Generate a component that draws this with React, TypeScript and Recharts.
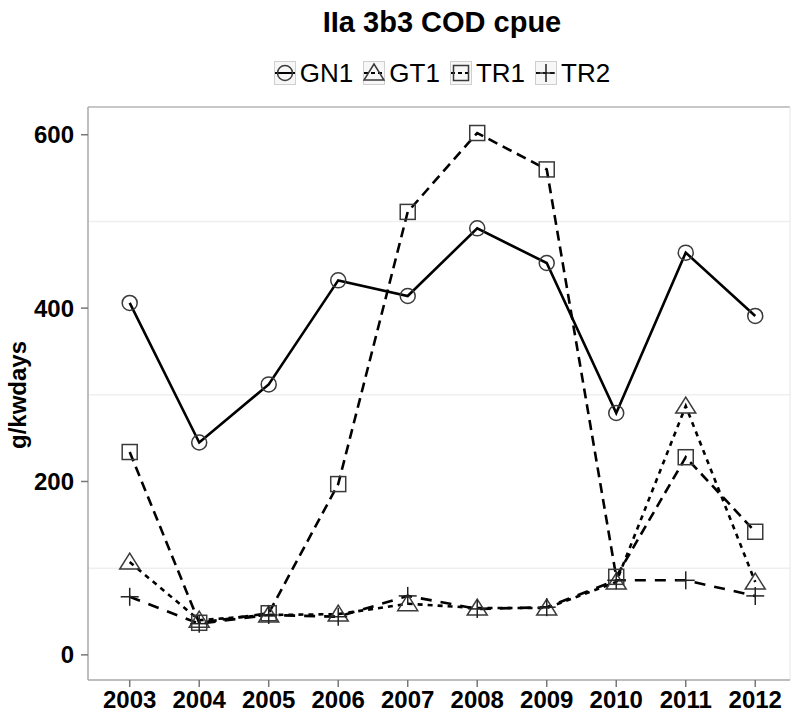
import { LineChart, Line, XAxis, YAxis, ReferenceLine } from 'recharts';

const years = [2003, 2004, 2005, 2006, 2007, 2008, 2009, 2010, 2011, 2012];
const gn1 = [406, 245, 312, 432, 414, 492, 452, 279, 464, 391];
const gt1 = [107, 40, 46, 47, 59, 54, 54, 84, 287, 84];
const tr1 = [234, 37, 48, 197, 511, 602, 560, 90, 228, 142];
const tr2 = [67, 36, 46, 44, 68, 53, 55, 86, 86, 68];
const yTicks = [0, 200, 400, 600];
const minorTicks = [100, 300, 500];

const FONT = '"Liberation Sans", Arial, sans-serif';

type Shape = 'circle' | 'triangle' | 'square' | 'plus';

const series: { key: string; dash?: string; shape: Shape }[] = [
  { key: 'GN1', shape: 'circle' },
  { key: 'GT1', dash: '5 5', shape: 'triangle' },
  { key: 'TR1', dash: '10 6', shape: 'square' },
  { key: 'TR2', dash: '11 9', shape: 'plus' },
];

const data = years.map((year, i) => ({
  year,
  GN1: gn1[i],
  GT1: gt1[i],
  TR1: tr1[i],
  TR2: tr2[i],
}));

const MARK = '#3a3a3a';

function Marker({ shape, cx, cy }: { shape: Shape; cx: number; cy: number }) {
  if (shape === 'circle') {
    return <circle cx={cx} cy={cy} r={7.5} fill="none" stroke={MARK} strokeWidth={1.5} />;
  }
  if (shape === 'square') {
    return <rect x={cx - 7.5} y={cy - 7.5} width={15} height={15} fill="none" stroke={MARK} strokeWidth={1.5} />;
  }
  if (shape === 'triangle') {
    return (
      <polygon
        points={`${cx},${cy - 9} ${cx - 10},${cy + 7} ${cx + 10},${cy + 7}`}
        fill="none"
        stroke={MARK}
        strokeWidth={1.5}
      />
    );
  }
  return (
    <g stroke="#222" strokeWidth={1.5}>
      <line x1={cx - 9} y1={cy} x2={cx + 9} y2={cy} />
      <line x1={cx} y1={cy - 9} x2={cx} y2={cy + 9} />
    </g>
  );
}

function LegendKey({ shape, dash }: { shape: Shape; dash?: string }) {
  return (
    <svg width={22} height={24} style={{ display: 'block' }}>
      <rect x={0.5} y={0.5} width={21} height={23} fill="#f7f7f7" stroke="#cfcfcf" />
      <line x1={1} y1={12} x2={21} y2={12} stroke="#000" strokeWidth={2} strokeDasharray={dash ? '4 3' : undefined} />
      <Marker shape={shape} cx={11} cy={12} />
    </svg>
  );
}

const tickStyle = { fill: '#000', fontSize: 24, fontWeight: 700, fontFamily: FONT };

export default function App() {
  return (
    <div
      style={{
        position: 'absolute',
        left: 0,
        top: 0,
        width: 793,
        height: 719,
        overflow: 'hidden',
        background: '#fff',
        fontFamily: FONT,
      }}
    >
      <div
        style={{
          position: 'absolute',
          left: 0,
          top: 8,
          width: 884,
          textAlign: 'center',
          fontSize: 29,
          lineHeight: '29px',
          fontWeight: 700,
        }}
      >
        IIa 3b3 COD cpue
      </div>
      <div
        style={{
          position: 'absolute',
          left: 0,
          top: 61,
          width: 884,
          height: 24,
          display: 'flex',
          justifyContent: 'center',
          alignItems: 'center',
          fontSize: 26,
          lineHeight: '24px',
        }}
      >
        {series.map((s, i) => (
          <div
            key={s.key}
            style={{ display: 'flex', alignItems: 'center', marginLeft: i === 0 ? 0 : 10 }}
          >
            <LegendKey shape={s.shape} dash={s.dash} />
            <span style={{ marginLeft: 4 }}>{s.key}</span>
          </div>
        ))}
      </div>
      <div
        style={{
          position: 'absolute',
          left: 18,
          top: 395,
          transform: 'translate(-50%, -50%) rotate(-90deg)',
          fontSize: 24,
          fontWeight: 700,
          whiteSpace: 'nowrap',
        }}
      >
        g/kwdays
      </div>
      <div style={{ position: 'absolute', left: 0, top: 0 }}>
        <LineChart width={800} height={719} data={data} margin={{ top: 107, right: 10, bottom: 0, left: 8 }}>
          {minorTicks.map((v) => (
            <ReferenceLine key={v} y={v} stroke="#efefef" strokeWidth={1.5} />
          ))}
          <ReferenceLine y={632} stroke="#b5b5b5" strokeWidth={1.5} />
          <ReferenceLine x={2012.5} stroke="#e6e6e6" strokeWidth={1} />
          <XAxis
            dataKey="year"
            type="number"
            domain={[2002.4, 2012.5]}
            ticks={years}
            allowDataOverflow
            height={39}
            interval={0}
            tick={tickStyle}
            tickSize={7}
            tickMargin={4}
            axisLine={{ stroke: '#a8a8a8', strokeWidth: 1.5 }}
            tickLine={{ stroke: '#777', strokeWidth: 1.5 }}
          />
          <YAxis
            type="number"
            domain={[-29, 632]}
            ticks={yTicks}
            allowDataOverflow
            width={80}
            interval={0}
            tick={tickStyle}
            tickSize={7}
            tickMargin={7}
            axisLine={{ stroke: '#a8a8a8', strokeWidth: 1.5 }}
            tickLine={{ stroke: '#777', strokeWidth: 1.5 }}
          />
          {series.map((s) => (
            <Line
              key={s.key}
              dataKey={s.key}
              type="linear"
              stroke="#000"
              strokeWidth={2.6}
              strokeDasharray={s.dash}
              isAnimationActive={false}
              activeDot={false}
              dot={(p: any) => (
                <Marker key={`${s.key}-${p.index}`} shape={s.shape} cx={p.cx} cy={p.cy} />
              )}
            />
          ))}
        </LineChart>
      </div>
    </div>
  );
}
